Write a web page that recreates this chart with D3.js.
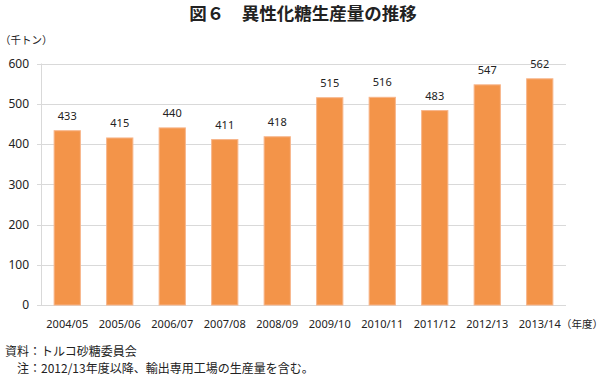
<!DOCTYPE html>
<html><head><meta charset="utf-8">
<script src="https://cdn.jsdelivr.net/npm/d3@7"></script>
<style>
body{margin:0;background:#fff;}
text{font-family:"Noto Sans CJK JP","Noto Sans",sans-serif;fill:#222;}
</style></head>
<body><svg id="c" width="604" height="378"></svg>
<script>
const categories = ["2004/05","2005/06","2006/07","2007/08","2008/09","2009/10","2010/11","2011/12","2012/13","2013/14"];
const values = [433,415,440,411,418,515,516,483,547,562];
const yTicks = [0,100,200,300,400,500,600];
const titleText = "図６　異性化糖生産量の推移";
const unitText = "（千トン）";
const xUnitText = "（年度）";
const notes = ["資料：トルコ砂糖委員会","　注：2012/13年度以降、輸出専用工場の生産量を含む。"];

const svg = d3.select("#c");
const L = 41, R = 566, T = 63.5, B = 305;
const x = d3.scaleBand().domain(categories).range([L,R]).paddingInner(0.5).paddingOuter(0.25);
const y = d3.scaleLinear().domain([0,600]).range([B,T]);

svg.append("text").attr("x",303).attr("y",20).attr("text-anchor","middle")
  .style("font-size","17.5px").style("font-weight","bold").text(titleText);
svg.append("text").attr("x",0).attr("y",44).style("font-size","10.5px").text(unitText);

// gridlines
svg.append("g").selectAll("line").data(yTicks).join("line")
  .attr("x1",L-4).attr("x2",R).attr("y1",d=>Math.round(y(d))+0.5).attr("y2",d=>Math.round(y(d))+0.5)
  .attr("stroke","#d9d9d9").attr("stroke-width",1);
svg.append("line").attr("x1",L+0.5).attr("x2",L+0.5).attr("y1",T).attr("y2",B+0.5)
  .attr("stroke","#d9d9d9");

const yAxis = d3.axisLeft(y).tickValues(yTicks).tickSize(0).tickPadding(0);
const gy = svg.append("g").attr("transform",`translate(${L-12},0)`).call(yAxis);
gy.select(".domain").remove();
gy.selectAll("text").style("font-size","12px").style("font-family","'Noto Sans',sans-serif").attr("fill","#222");

svg.append("g").selectAll("rect").data(values).join("rect")
  .attr("x",(d,i)=>x(categories[i])).attr("width",x.bandwidth())
  .attr("y",d=>y(d)).attr("height",d=>B-y(d))
  .attr("fill","#f39449").attr("stroke","#f7b58a").attr("stroke-width",1);

svg.append("g").selectAll("text").data(values).join("text")
  .attr("x",(d,i)=>x(categories[i])+x.bandwidth()/2).attr("y",d=>y(d)-11)
  .attr("text-anchor","middle").style("font-size","11px").style("font-family","'Noto Sans',sans-serif").text(d=>d);

const xAxis = d3.axisBottom(x).tickSize(0).tickPadding(0);
const gx = svg.append("g").attr("transform",`translate(0,${B+23})`).call(xAxis);
gx.select(".domain").remove();
gx.selectAll("text").style("font-size","11px").style("font-family","'Noto Sans',sans-serif").attr("fill","#222").attr("dy","0");

svg.append("text").attr("x",561).attr("y",328).style("font-size","10.5px").text(xUnitText);

notes.forEach((t,i)=>{
  svg.append("text").attr("x",5).attr("y",356+i*17).style("font-size","12px").text(t);
});
</script></body></html>
